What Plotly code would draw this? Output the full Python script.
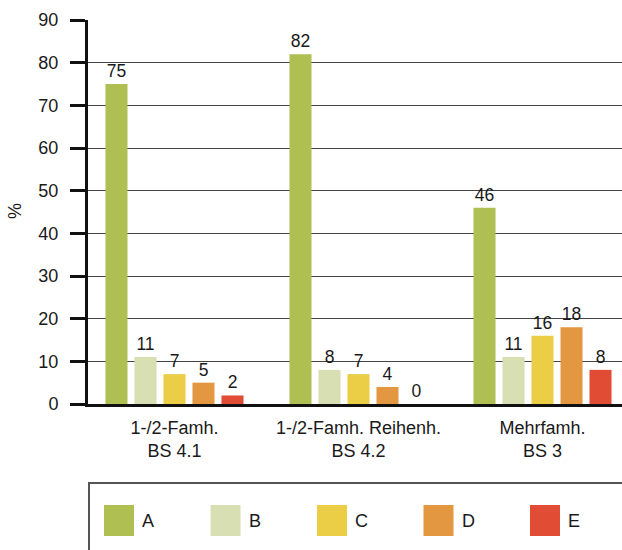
import plotly.graph_objects as go

categories = ["1-/2-Famh.<br>BS 4.1", "1-/2-Famh. Reihenh.<br>BS 4.2", "Mehrfamh.<br>BS 3"]
series_names = ["A", "B", "C", "D", "E"]
series_values = {
    "A": [75, 82, 46],
    "B": [11, 8, 11],
    "C": [7, 7, 16],
    "D": [5, 4, 18],
    "E": [2, 0, 8],
}
colors = ["#b0bf52", "#d8dfb2", "#ebcd46", "#e49741", "#e14d34"]
y_ticks = [0, 10, 20, 30, 40, 50, 60, 70, 80, 90]

FONT = "Liberation Sans, Arial, sans-serif"
W, H = 622, 550
ML, MR, MT, MB = 88, 0, 20, 146
PW, PH = W - ML - MR, H - MT - MB

fig = go.Figure()
for name, col in zip(series_names, colors):
    vals = series_values[name]
    fig.add_trace(go.Bar(
        name=name, x=categories, y=vals, marker=dict(color=col, line=dict(width=0)),
        text=[str(v) for v in vals], textposition="outside", cliponaxis=False,
        textfont=dict(family=FONT, size=17.5, color="#1a1a1a"),
        showlegend=False,
    ))

def px_x(p):
    return (p - ML) / PW

def px_y(p):
    return (H - MB - p) / PH

shapes = []
annotations = []
# legend box
shapes.append(dict(type="rect", xref="paper", yref="paper",
                   x0=px_x(89), x1=px_x(640), y0=px_y(570), y1=px_y(483),
                   line=dict(color="#555555", width=2), fillcolor="rgba(0,0,0,0)"))
for i, (name, col) in enumerate(zip(series_names, colors)):
    x0 = 104 + i * 106.5
    shapes.append(dict(type="rect", xref="paper", yref="paper",
                       x0=px_x(x0), x1=px_x(x0 + 30), y0=px_y(536), y1=px_y(505),
                       line=dict(width=0), fillcolor=col))
    annotations.append(dict(xref="paper", yref="paper", x=px_x(x0 + 36), y=px_y(521),
                            text=name, showarrow=False, xanchor="left", yanchor="middle",
                            font=dict(family=FONT, size=18, color="#1a1a1a")))
# y axis title
annotations.append(dict(xref="paper", yref="paper", x=px_x(15), y=px_y(211),
                        text="%", showarrow=False, textangle=-90,
                        xanchor="center", yanchor="middle",
                        font=dict(family=FONT, size=18, color="#1a1a1a")))

fig.update_layout(
    width=W, height=H,
    margin=dict(l=ML, r=MR, t=MT, b=MB, autoexpand=False),
    paper_bgcolor="white", plot_bgcolor="white",
    barmode="group", bargap=0.212, bargroupgap=0.24,
    font=dict(family=FONT, size=18, color="#1a1a1a"),
    shapes=shapes, annotations=annotations,
    xaxis=dict(type="category", range=[-0.470, 2.432], showgrid=False,
               showline=True, linecolor="#111111", linewidth=3,
               ticks="", ticklabelstandoff=5,
               tickfont=dict(family=FONT, size=18, color="#1a1a1a"),
               fixedrange=True),
    yaxis=dict(range=[0, 90], tickvals=y_ticks, showgrid=True,
               gridcolor="#444444", gridwidth=1,
               showline=True, linecolor="#111111", linewidth=3,
               ticks="outside", ticklen=15, tickwidth=3, tickcolor="#111111",
               ticklabelstandoff=8, zeroline=False,
               tickfont=dict(family=FONT, size=18, color="#1a1a1a"),
               fixedrange=True),
    showlegend=False,
)

fig.write_html("out.html", config={"displayModeBar": False},
               post_script="document.body.style.margin='0';document.body.style.overflow='hidden';")
